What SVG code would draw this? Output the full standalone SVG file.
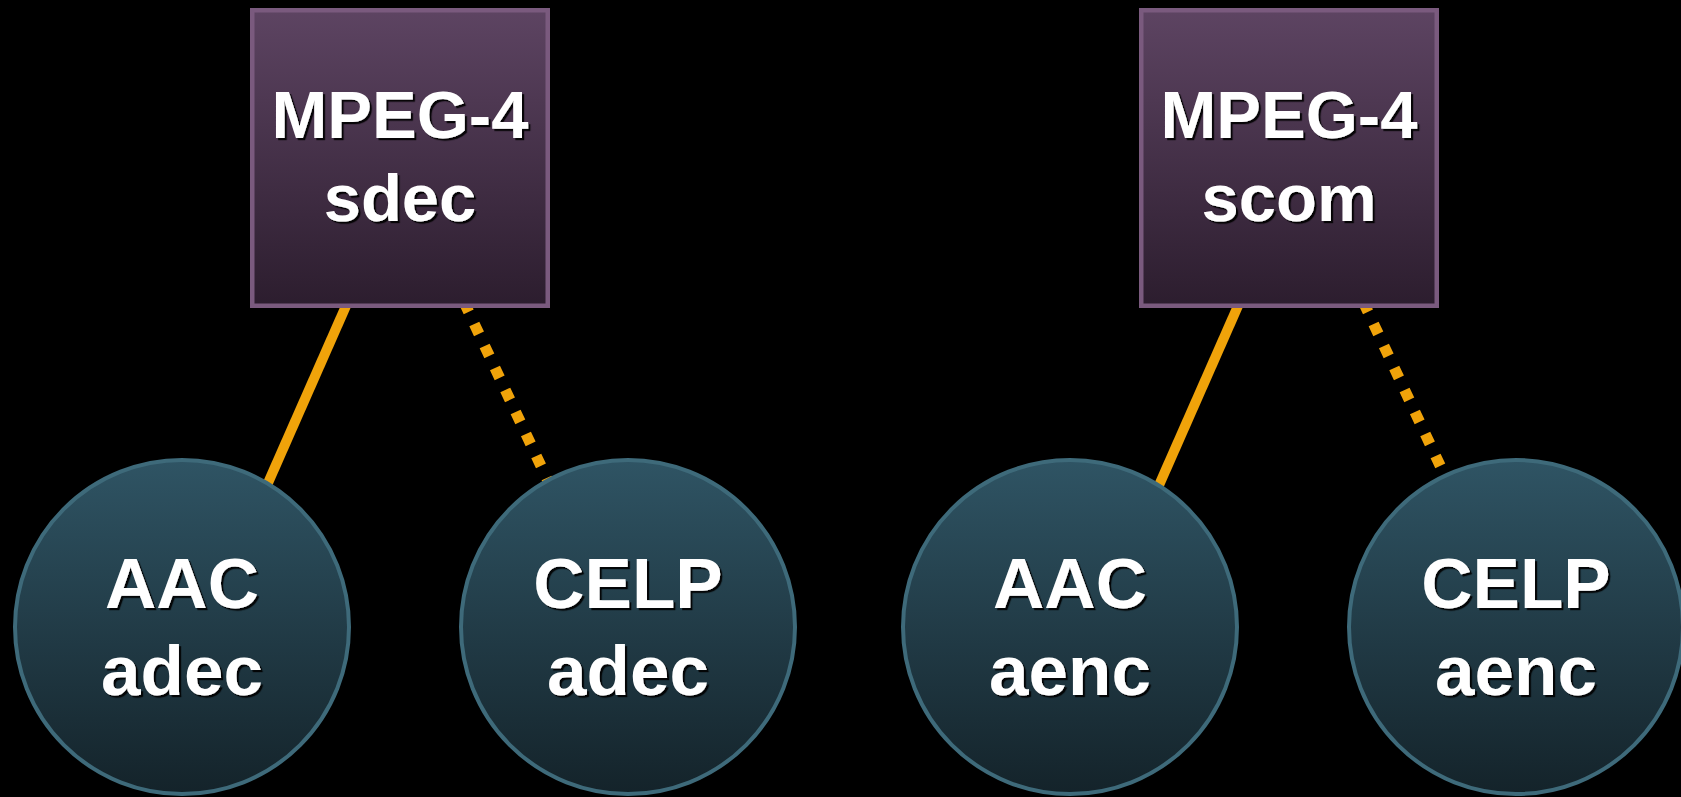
<svg xmlns="http://www.w3.org/2000/svg" width="1681" height="797" viewBox="0 0 1681 797">
  <defs>
    <linearGradient id="boxGrad" x1="0" y1="0" x2="0" y2="1">
      <stop offset="0" stop-color="#5d4462"/>
      <stop offset="1" stop-color="#2c1d2e"/>
    </linearGradient>
    <linearGradient id="circGrad" x1="0" y1="0" x2="0" y2="1">
      <stop offset="0" stop-color="#2f5464"/>
      <stop offset="1" stop-color="#14232a"/>
    </linearGradient>
    <filter id="shadow" x="-10%" y="-10%" width="120%" height="130%">
      <feDropShadow dx="2.2" dy="2.2" stdDeviation="0.6" flood-color="#000" flood-opacity="0.9"/>
    </filter>
    <style>
      .box { fill: url(#boxGrad); stroke: #7a5a7e; stroke-width: 4.5; }
      .circ { fill: url(#circGrad); stroke: #3e6a7a; stroke-width: 4; }
      .lbl { font-family: "Liberation Sans", Arial, Helvetica, sans-serif; font-weight: bold; fill: #ffffff; text-anchor: middle; filter: url(#shadow); }
      .bt { font-size: 67px; }
      .ct { font-size: 71px; }
      .solid { stroke: #f0a30a; stroke-width: 10; fill: none; }
      .dotted { stroke: #f0a30a; stroke-width: 11; fill: none; stroke-dasharray: 11 13.3; }
    </style>
  </defs>
  <rect width="1681" height="797" fill="#000"/>
  <g id="connectors">
    <line class="solid" x1="348.6" y1="300" x2="260.5" y2="500"/>
    <line class="dotted" x1="464" y1="302" x2="556" y2="498"/>
    <line class="solid" x1="1240.6" y1="300" x2="1152.5" y2="500"/>
    <line class="dotted" x1="1363.3" y1="302" x2="1455.3" y2="498"/>
  </g>
  <g id="sdec">
    <rect class="box" x="252.25" y="10.25" width="295.5" height="295.5"/>
    <text class="lbl bt" x="400" y="138">MPEG-4</text>
    <text class="lbl bt" x="400" y="221">sdec</text>
  </g>
  <g id="scom">
    <rect class="box" x="1141.25" y="10.25" width="295.5" height="295.5"/>
    <text class="lbl bt" x="1289" y="138">MPEG-4</text>
    <text class="lbl bt" x="1289" y="221">scom</text>
  </g>
  <g id="aac-adec">
    <circle class="circ" cx="182" cy="627" r="167"/>
    <text class="lbl ct" x="182" y="608">AAC</text>
    <text class="lbl ct" x="182" y="695">adec</text>
  </g>
  <g id="celp-adec">
    <circle class="circ" cx="628" cy="627" r="167"/>
    <text class="lbl ct" x="628" y="608">CELP</text>
    <text class="lbl ct" x="628" y="695">adec</text>
  </g>
  <g id="aac-aenc">
    <circle class="circ" cx="1070" cy="627" r="167"/>
    <text class="lbl ct" x="1070" y="608">AAC</text>
    <text class="lbl ct" x="1070" y="695">aenc</text>
  </g>
  <g id="celp-aenc">
    <circle class="circ" cx="1516" cy="627" r="167"/>
    <text class="lbl ct" x="1516" y="608">CELP</text>
    <text class="lbl ct" x="1516" y="695">aenc</text>
  </g>
</svg>
